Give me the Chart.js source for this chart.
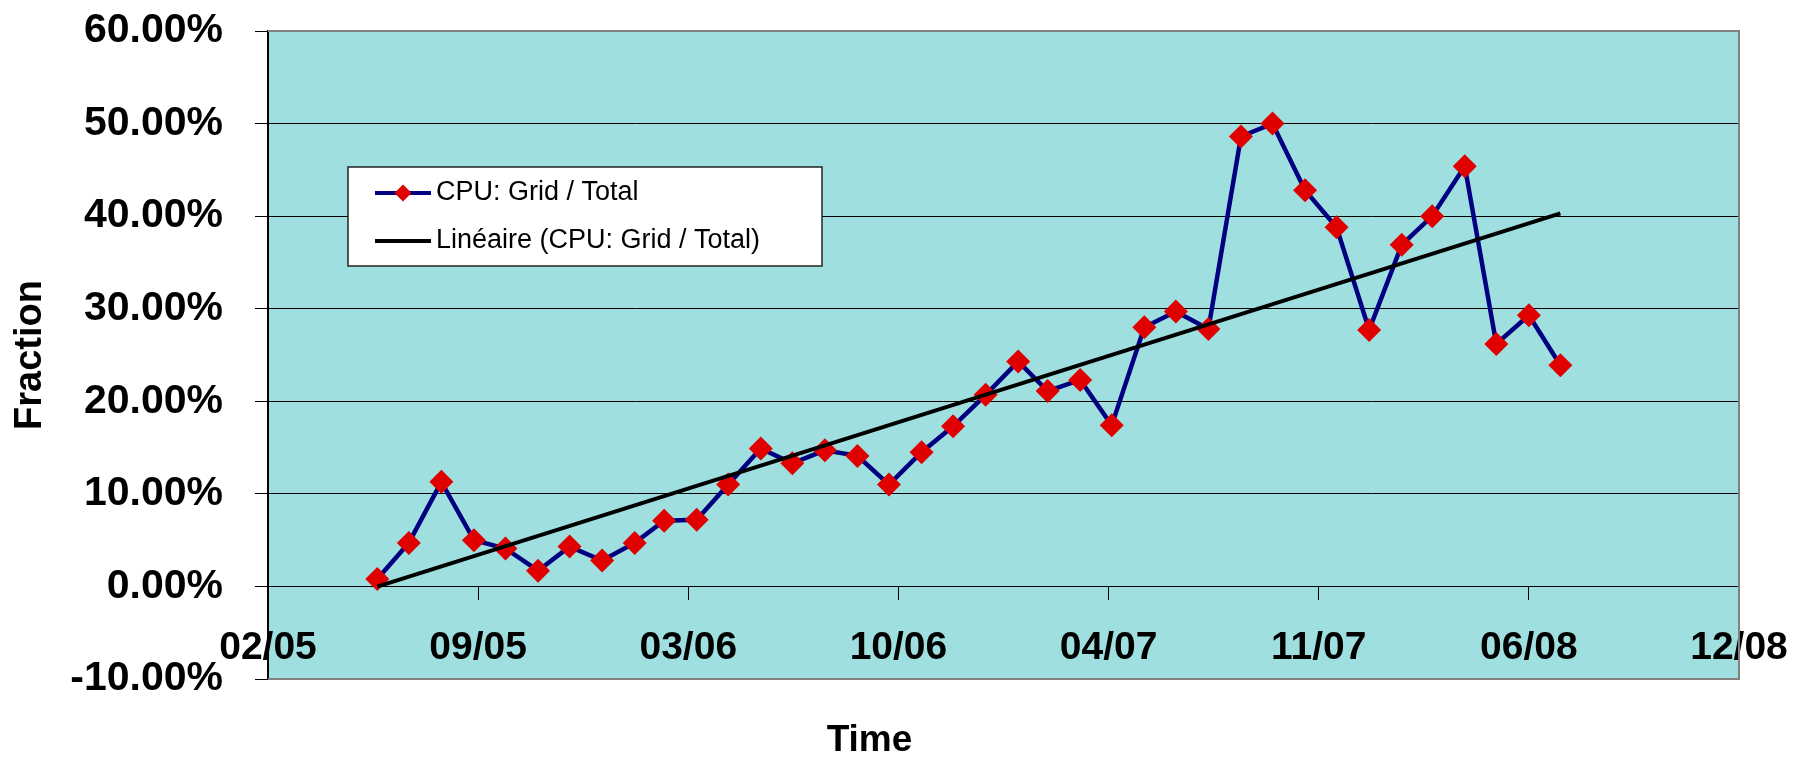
<!DOCTYPE html>
<html>
<head>
<meta charset="utf-8">
<title>CPU: Grid / Total</title>
<script src="https://cdn.jsdelivr.net/npm/chart.js@4.4.1/dist/chart.umd.min.js"></script>
<style>
  html, body { margin: 0; padding: 0; background: #fff; }
  #wrap { width: 1803px; height: 760px; }
</style>
</head>
<body>
<div id="wrap"><canvas id="cpuChart" width="1803" height="760"></canvas></div>
<script>
// monthly samples (first of month)
const months = [
    '2005-06', '2005-07', '2005-08', '2005-09', '2005-10', '2005-11', '2005-12',
    '2006-01', '2006-02', '2006-03', '2006-04', '2006-05', '2006-06', '2006-07',
    '2006-08', '2006-09', '2006-10', '2006-11', '2006-12', '2007-01', '2007-02',
    '2007-03', '2007-04', '2007-05', '2007-06', '2007-07', '2007-08', '2007-09',
    '2007-10', '2007-11', '2007-12', '2008-01', '2008-02', '2008-03', '2008-04',
    '2008-05', '2008-06', '2008-07'
];

// CPU: Grid / Total, in percent
const gridShare = [
    0.8, 4.7, 11.3, 5.0, 4.1, 1.7, 4.3,
    2.8, 4.7, 7.1, 7.2, 11.0, 14.9, 13.3,
    14.7, 14.1, 11.0, 14.5, 17.3, 20.7, 24.3,
    21.1, 22.3, 17.4, 28.0, 29.7, 27.8, 48.6,
    50.0, 42.8, 38.8, 27.7, 36.9, 40.0, 45.4,
    26.2, 29.3, 23.9
];

// x axis in Excel date serials (days since 1899-12-30), ticks 02/05 ... 12/08
const xTickMin = 38400;
const xTickMax = 39800;
const xTickStep = 200;

// y axis in percent
const yTickMin = -10;
const yTickMax = 60;
const yTickStep = 10;

const seriesLabel = 'CPU: Grid / Total';
const trendLabel = 'Linéaire (CPU: Grid / Total)';

const EXCEL_EPOCH = Date.UTC(1899, 11, 30);
const DAY = 86400000;
const FONT = '"Liberation Sans", Arial, Helvetica, sans-serif';

function toSerial(ym) {
    const [y, m] = ym.split('-').map(Number);
    return (Date.UTC(y, m - 1, 1) - EXCEL_EPOCH) / DAY;
}

function serialLabel(s) {
    const d = new Date(EXCEL_EPOCH + s * DAY);
    const mm = String(d.getUTCMonth() + 1).padStart(2, '0');
    const yy = String(d.getUTCFullYear() % 100).padStart(2, '0');
    return mm + '/' + yy;
}

// least squares fit, same as Excel's linear trendline
function linearFit(xs, ys) {
    const n = xs.length;
    const mx = xs.reduce((a, b) => a + b, 0) / n;
    const my = ys.reduce((a, b) => a + b, 0) / n;
    let sxy = 0, sxx = 0;
    for (let i = 0; i < n; i++) {
        sxy += (xs[i] - mx) * (ys[i] - my);
        sxx += (xs[i] - mx) * (xs[i] - mx);
    }
    const slope = sxy / sxx;
    return { slope: slope, intercept: my - slope * mx };
}

const xs = months.map(toSerial);
const points = xs.map((x, i) => ({ x: x, y: gridShare[i] }));
const fit = linearFit(xs, gridShare);
const xFirst = xs[0], xLast = xs[xs.length - 1];
const trendPoints = [
    { x: xFirst, y: fit.intercept + fit.slope * xFirst },
    { x: xLast, y: fit.intercept + fit.slope * xLast }
];

// plot area fill + grey frame like Excel
const plotArea = {
    id: 'plotArea',
    beforeDraw(chart) {
        const { ctx, chartArea: a } = chart;
        ctx.save();
        ctx.fillStyle = '#A0DFDF';
        ctx.fillRect(a.left, a.top, a.right - a.left, a.bottom - a.top);
        ctx.restore();
    },
    afterDatasetsDraw(chart) {
        const { ctx, chartArea: a } = chart;
        ctx.save();
        ctx.strokeStyle = '#808080';
        ctx.lineWidth = 2;
        ctx.beginPath();
        ctx.moveTo(a.left, a.top);
        ctx.lineTo(a.right, a.top);
        ctx.lineTo(a.right, a.bottom);
        ctx.lineTo(a.left, a.bottom);
        ctx.stroke();
        ctx.restore();
    }
};

// boxed legend inside the plot
const boxLegend = {
    id: 'boxLegend',
    afterDraw(chart) {
        const { ctx, chartArea: a } = chart;
        const x = a.left + 80, y = a.top + 136, w = 474, h = 99;
        ctx.save();
        ctx.fillStyle = '#fff';
        ctx.fillRect(x, y, w, h);
        ctx.strokeStyle = '#222';
        ctx.lineWidth = 1.5;
        ctx.strokeRect(x, y, w, h);

        const rows = [chart.data.datasets[1], chart.data.datasets[0]];
        rows.forEach((ds, i) => {
            const cy = y + 26 + i * 48;
            ctx.strokeStyle = ds.borderColor;
            ctx.lineWidth = 4;
            ctx.beginPath();
            ctx.moveTo(x + 27, cy);
            ctx.lineTo(x + 83, cy);
            ctx.stroke();
            if (ds.pointRadius > 0) {
                const r = 8.5, cx = x + 55;
                ctx.fillStyle = ds.pointBackgroundColor;
                ctx.beginPath();
                ctx.moveTo(cx - r, cy);
                ctx.lineTo(cx, cy - r);
                ctx.lineTo(cx + r, cy);
                ctx.lineTo(cx, cy + r);
                ctx.closePath();
                ctx.fill();
            }
            ctx.fillStyle = '#000';
            ctx.font = '27px ' + FONT;
            ctx.textBaseline = 'middle';
            ctx.textAlign = 'left';
            ctx.fillText(ds.label, x + 88, cy);
        });
        ctx.restore();
    }
};

Chart.defaults.color = '#000';
Chart.defaults.font.family = FONT;

const ctx = document.getElementById('cpuChart').getContext('2d');
const chart = new Chart(ctx, {
    type: 'line',
    data: {
        datasets: [
            {
                label: trendLabel,
                data: trendPoints,
                borderColor: '#000',
                borderWidth: 4,
                pointRadius: 0,
                order: 0
            },
            {
                label: seriesLabel,
                data: points,
                borderColor: '#000080',
                borderWidth: 4.5,
                tension: 0,
                pointStyle: 'rectRot',
                pointRadius: 12,
                pointBackgroundColor: '#E00000',
                pointBorderWidth: 0,
                order: 1
            }
        ]
    },
    options: {
        responsive: false,
        animation: false,
        layout: { padding: { top: 31, right: 64, bottom: 0, left: 0 } },
        scales: {
            x: {
                type: 'linear',
                position: { y: 0 },
                min: xTickMin,
                max: xTickMax,
                ticks: {
                    stepSize: xTickStep,
                    callback: v => serialLabel(v),
                    font: { size: 39, weight: 'bold' },
                    padding: 25,
                    maxRotation: 0,
                    autoSkip: false
                },
                grid: { drawOnChartArea: false, tickLength: 13, color: '#000' },
                border: { color: '#000', width: 1 },
                // labels may overhang the plot, like Excel does
                afterFit: scale => { scale.paddingLeft = 0; scale.paddingRight = 0; }
            },
            y: {
                min: yTickMin,
                max: yTickMax,
                ticks: {
                    stepSize: yTickStep,
                    callback: v => v.toFixed(2) + '%',
                    font: { size: 41, weight: 'bold' },
                    padding: 32
                },
                grid: { color: '#000', tickLength: 13 },
                border: { color: '#000', width: 2 },
                title: {
                    display: true,
                    text: 'Fraction',
                    font: { size: 38, weight: 'bold' },
                    padding: { top: 8, bottom: 0 }
                },
                afterFit: scale => {
                    scale.width = 268;
                    scale.paddingTop = 0;
                    scale.paddingBottom = 0;
                }
            }
        },
        plugins: {
            legend: { display: false },
            tooltip: { enabled: false },
            title: {
                display: true,
                position: 'bottom',
                text: 'Time',
                color: '#000',
                font: { size: 37, weight: 'bold', lineHeight: 1 },
                padding: { top: 43, bottom: 1 }
            }
        }
    },
    plugins: [plotArea, boxLegend]
});
</script>
</body>
</html>
